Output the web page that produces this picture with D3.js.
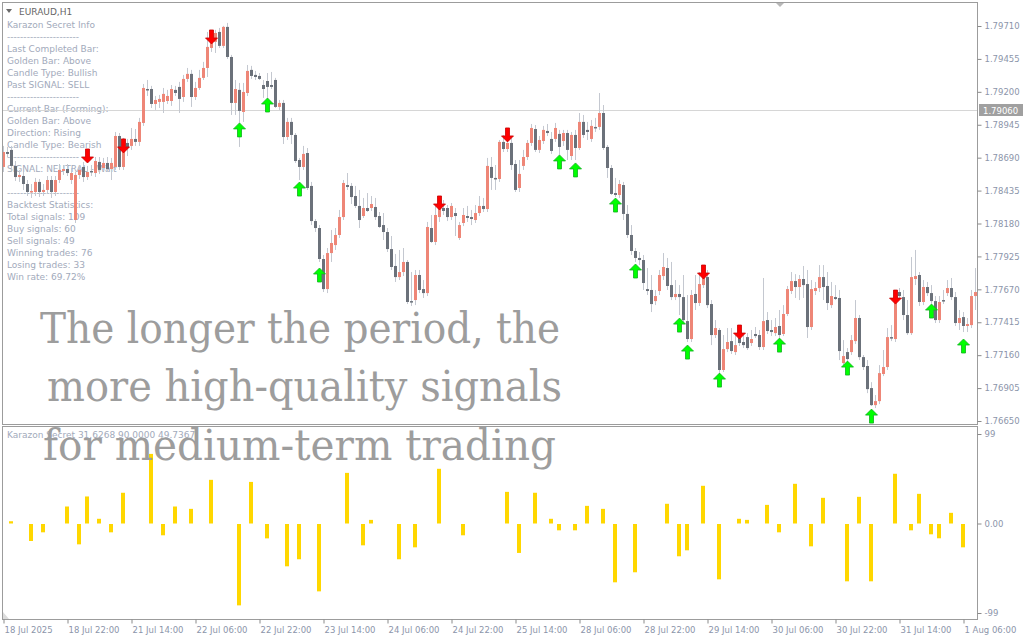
<!DOCTYPE html>
<html><head><meta charset="utf-8">
<script src="https://cdn.jsdelivr.net/npm/d3@7"></script>
<style>body{margin:0;background:#fff}svg{display:block}</style>
</head><body><svg id="c" width="1024" height="640"></svg>
<script>
const opens = [
1.78618,1.78734,1.78750,1.78626,1.78540,1.78548,1.78486,1.78424,1.78424,1.78502,
1.78424,1.78440,1.78517,1.78424,1.78517,1.78587,1.78602,1.78517,1.78207,1.78556,
1.78618,1.78540,1.78587,1.78571,1.78657,1.78610,1.78649,1.78602,1.78618,1.78858,
1.78618,1.78804,1.78781,1.78835,1.78812,1.78959,1.79222,1.79222,1.79106,1.79122,
1.79122,1.79129,1.79129,1.79215,1.79238,1.79160,1.79300,1.79339,1.79160,1.79230,
1.79308,1.79385,1.79540,1.79587,1.79664,1.79556,1.79703,1.79470,1.79114,1.79215,
1.79044,1.79191,1.79370,1.79331,1.79323,1.79253,1.79284,1.79253,1.79292,1.79083,
1.79114,1.78850,1.78967,1.78866,1.78672,1.78618,1.78726,1.78471,1.78199,1.78145,
1.77905,1.77672,1.77951,1.78013,1.78091,1.78230,1.78478,1.78471,1.78393,1.78316,
1.78238,1.78300,1.78300,1.78308,1.78238,1.78168,1.78114,1.77982,1.77851,1.77765,
1.77804,1.77882,1.77579,1.77587,1.77781,1.77672,1.77641,1.78145,1.78037,1.78230,
1.78300,1.78300,1.78230,1.78261,1.78068,1.78184,1.78238,1.78230,1.78207,1.78261,
1.78316,1.78292,1.78618,1.78533,1.78525,1.78812,1.78757,1.78804,1.78641,1.78455,
1.78626,1.78695,1.78804,1.78912,1.78750,1.78819,1.78897,1.78835,1.78835,1.78874,
1.78819,1.78881,1.78703,1.78866,1.78765,1.78967,1.78905,1.78835,1.78928,1.78928,
1.79036,1.78773,1.78610,1.78416,1.78401,1.78478,1.78254,1.78091,1.77967,1.77913,
1.77897,1.77672,1.77665,1.77579,1.77657,1.77773,1.77835,1.77703,1.77610,1.77634,
1.77610,1.77424,1.77285,1.77634,1.77564,1.77703,1.77765,1.77556,1.77316,1.77355,
1.77045,1.77207,1.77269,1.77184,1.77293,1.77262,1.77300,1.77254,1.77324,1.77316,
1.77223,1.77432,1.77355,1.77331,1.77386,1.77324,1.77479,1.77657,1.77734,1.77688,
1.77750,1.77711,1.77378,1.77657,1.77680,1.77765,1.77696,1.77548,1.77610,1.77603,
1.77099,1.77184,1.77184,1.77269,1.77448,1.77145,1.77076,1.76905,1.76773,1.76804,
1.77014,1.77068,1.77300,1.77285,1.77649,1.77610,1.77471,1.77331,1.77750,1.77781,
1.77572,1.77688,1.77641,1.77579,1.77432,1.77587,1.77641,1.77680,1.77610,1.77409,
1.77455,1.77386,1.77393,1.77618];
const highs = [
1.78781,1.78773,1.78781,1.78664,1.78595,1.78579,1.78517,1.78486,1.78533,1.78525,
1.78486,1.78548,1.78548,1.78548,1.78641,1.78633,1.78641,1.78610,1.78579,1.78633,
1.78657,1.78626,1.78633,1.78695,1.78695,1.78688,1.78695,1.78688,1.78889,1.78881,
1.78843,1.78835,1.78920,1.78912,1.78998,1.79261,1.79292,1.79246,1.79168,1.79176,
1.79230,1.79215,1.79253,1.79246,1.79277,1.79331,1.79385,1.79370,1.79277,1.79370,
1.79432,1.79664,1.79618,1.79680,1.79695,1.79711,1.79734,1.79486,1.79292,1.79269,
1.79269,1.79408,1.79401,1.79362,1.79346,1.79292,1.79346,1.79354,1.79308,1.79137,
1.79137,1.78998,1.78998,1.78881,1.78688,1.78781,1.78765,1.78502,1.78215,1.78168,
1.77936,1.77990,1.78130,1.78145,1.78285,1.78517,1.78571,1.78494,1.78471,1.78440,
1.78378,1.78416,1.78393,1.78378,1.78269,1.78261,1.78145,1.78083,1.77944,1.77975,
1.77990,1.77897,1.77804,1.77820,1.77820,1.77742,1.78192,1.78246,1.78316,1.78323,
1.78362,1.78323,1.78339,1.78300,1.78192,1.78300,1.78316,1.78285,1.78323,1.78393,
1.78378,1.78688,1.78695,1.78633,1.78827,1.78866,1.78866,1.78843,1.78672,1.78672,
1.78750,1.78827,1.78951,1.78943,1.78858,1.78936,1.78951,1.78889,1.78959,1.78905,
1.78905,1.78905,1.78889,1.78905,1.79036,1.79021,1.78967,1.78982,1.78998,1.79191,
1.79098,1.78788,1.78633,1.78533,1.78517,1.78502,1.78323,1.78168,1.77990,1.77959,
1.77936,1.77835,1.77781,1.77665,1.77820,1.77951,1.77913,1.77882,1.77742,1.77703,
1.77781,1.77626,1.77665,1.77781,1.77804,1.77773,1.77820,1.77587,1.77432,1.77370,
1.77316,1.77370,1.77370,1.77316,1.77355,1.77316,1.77331,1.77355,1.77378,1.77355,
1.77758,1.77494,1.77432,1.77448,1.77510,1.77548,1.77696,1.77804,1.77788,1.77781,
1.77851,1.77820,1.77742,1.77727,1.77858,1.77858,1.77804,1.77727,1.77703,1.77665,
1.77277,1.77215,1.77316,1.77587,1.77471,1.77161,1.77122,1.76951,1.76851,1.77083,
1.77200,1.77370,1.77393,1.77665,1.77680,1.77665,1.77587,1.77920,1.77975,1.77804,
1.77742,1.77727,1.77703,1.77618,1.77618,1.77665,1.77742,1.77758,1.77649,1.77510,
1.77494,1.77448,1.77665,1.77835];
const lows = [
1.78579,1.78695,1.78579,1.78509,1.78502,1.78440,1.78393,1.78378,1.78393,1.78385,
1.78393,1.78409,1.78378,1.78393,1.78494,1.78556,1.78548,1.78486,1.78184,1.78525,
1.78502,1.78517,1.78548,1.78540,1.78564,1.78587,1.78579,1.78517,1.78595,1.78595,
1.78595,1.78703,1.78750,1.78781,1.78781,1.78936,1.79168,1.79075,1.79060,1.79075,
1.79036,1.79106,1.79091,1.79168,1.79036,1.79122,1.79277,1.79083,1.79137,1.79215,
1.79292,1.79315,1.79509,1.79501,1.79540,1.79540,1.79455,1.79021,1.79021,1.78773,
1.78967,1.79168,1.79300,1.79292,1.79292,1.79153,1.79145,1.79222,1.79075,1.79060,
1.78796,1.78827,1.78796,1.78649,1.78517,1.78595,1.78440,1.78168,1.78114,1.77882,
1.77649,1.77641,1.77882,1.77975,1.78068,1.78207,1.78440,1.78331,1.78300,1.78145,
1.78223,1.78269,1.78277,1.78207,1.78145,1.78052,1.77959,1.77820,1.77727,1.77742,
1.77773,1.77556,1.77541,1.77548,1.77641,1.77603,1.77618,1.78029,1.78013,1.78192,
1.78246,1.78199,1.78207,1.78083,1.78052,1.78160,1.78192,1.78168,1.78184,1.78238,
1.78269,1.78269,1.78440,1.78440,1.78502,1.78734,1.78734,1.78595,1.78424,1.78424,
1.78595,1.78672,1.78781,1.78734,1.78726,1.78796,1.78858,1.78719,1.78812,1.78711,
1.78781,1.78672,1.78672,1.78672,1.78750,1.78843,1.78827,1.78812,1.78889,1.78905,
1.78750,1.78533,1.78401,1.78385,1.78378,1.78207,1.78068,1.77936,1.77882,1.77858,
1.77665,1.77626,1.77494,1.77548,1.77626,1.77742,1.77665,1.77587,1.77587,1.77471,
1.77417,1.77262,1.77262,1.77510,1.77541,1.77680,1.77525,1.77238,1.77293,1.77006,
1.77029,1.77184,1.77169,1.77161,1.77231,1.77215,1.77200,1.77231,1.77293,1.77200,
1.77200,1.77324,1.77308,1.77308,1.77293,1.77308,1.77463,1.77634,1.77603,1.77587,
1.77603,1.77293,1.77355,1.77626,1.77649,1.77587,1.77510,1.77525,1.77587,1.77122,
1.77083,1.77106,1.77161,1.77246,1.77122,1.77045,1.76866,1.76766,1.76750,1.76781,
1.76998,1.77045,1.77269,1.77262,1.77603,1.77432,1.77316,1.77316,1.77703,1.77541,
1.77548,1.77618,1.77556,1.77409,1.77409,1.77556,1.77618,1.77587,1.77386,1.77355,
1.77339,1.77339,1.77370,1.77510];
const closes = [
1.78734,1.78719,1.78626,1.78540,1.78556,1.78486,1.78424,1.78432,1.78502,1.78424,
1.78440,1.78517,1.78424,1.78517,1.78595,1.78602,1.78571,1.78571,1.78556,1.78595,
1.78540,1.78579,1.78579,1.78664,1.78595,1.78649,1.78602,1.78649,1.78858,1.78618,
1.78804,1.78765,1.78835,1.78812,1.78967,1.79230,1.79215,1.79106,1.79137,1.79145,
1.79184,1.79168,1.79222,1.79191,1.79145,1.79300,1.79339,1.79160,1.79230,1.79308,
1.79385,1.79548,1.79587,1.79656,1.79556,1.79703,1.79470,1.79114,1.79222,1.79052,
1.79199,1.79362,1.79323,1.79315,1.79300,1.79222,1.79238,1.79238,1.79083,1.79114,
1.78850,1.78967,1.78866,1.78664,1.78618,1.78719,1.78455,1.78199,1.78145,1.77905,
1.77672,1.77951,1.78029,1.78091,1.78230,1.78494,1.78463,1.78385,1.78316,1.78207,
1.78300,1.78277,1.78331,1.78230,1.78153,1.78114,1.77982,1.77843,1.77765,1.77804,
1.77882,1.77572,1.77572,1.77781,1.77665,1.77641,1.78153,1.78037,1.78246,1.78300,
1.78277,1.78230,1.78316,1.78238,1.78168,1.78246,1.78223,1.78215,1.78261,1.78316,
1.78292,1.78626,1.78533,1.78525,1.78812,1.78757,1.78804,1.78633,1.78440,1.78564,
1.78695,1.78804,1.78920,1.78750,1.78827,1.78905,1.78881,1.78742,1.78920,1.78773,
1.78881,1.78750,1.78866,1.78765,1.78967,1.78866,1.78889,1.78936,1.78920,1.79036,
1.78765,1.78610,1.78409,1.78401,1.78486,1.78254,1.78091,1.77967,1.77913,1.77897,
1.77719,1.77657,1.77556,1.77618,1.77781,1.77843,1.77696,1.77610,1.77634,1.77610,
1.77432,1.77285,1.77626,1.77564,1.77711,1.77765,1.77548,1.77316,1.77370,1.77045,
1.77207,1.77262,1.77192,1.77238,1.77254,1.77238,1.77215,1.77285,1.77308,1.77223,
1.77424,1.77347,1.77339,1.77378,1.77316,1.77479,1.77672,1.77734,1.77688,1.77750,
1.77703,1.77378,1.77672,1.77680,1.77765,1.77688,1.77564,1.77618,1.77595,1.77192,
1.77153,1.77130,1.77277,1.77448,1.77145,1.77068,1.76897,1.76773,1.76804,1.77021,
1.77068,1.77300,1.77293,1.77641,1.77618,1.77471,1.77331,1.77765,1.77773,1.77572,
1.77688,1.77641,1.77579,1.77432,1.77572,1.77579,1.77680,1.77610,1.77409,1.77448,
1.77386,1.77401,1.77618,1.77649];

const sellBars = [21,30,52,109,126,175,184,223];
const sellPrices = [1.78703,1.78781,1.79625,1.78339,1.78866,1.77804,1.77339,1.77610];
const buyBars = [59,66,74,79,139,143,153,158,169,171,179,194,211,217,232,240];
const buyPrices = [1.78905,1.79098,1.78447,1.77781,1.78657,1.78595,1.78323,1.77812,1.77393,1.77184,1.76967,1.77238,1.77060,1.76688,1.77502,1.77231];

const oscBars = [2,7,10,16,19,21,24,27,30,37,40,43,47,52,59,62,66,71,74,79,86,90,92,99,103,109,115,126,129,133,137,139,143,146,150,153,158,166,169,171,175,179,184,186,191,194,198,202,205,211,214,217,223,227,229,232,234,237,240];
const oscValues = [2.5,-18.8,-9.2,18.8,-22.5,29.9,5.2,-9.2,34,77,-12.5,18.8,16.2,48.3,-90,46,-15.9,-46.8,-39,-74.5,56,-23.6,4,-39,-25.8,60.5,-12.5,35,-32,34,5.2,-7,-7,19.5,16.2,-64.5,-53.4,21.8,-35.7,-29.1,41.7,-61.2,5.2,4,20.6,-9.2,43.9,-24.7,28.4,-63.4,29.5,-63.4,55,-7,32.8,-11.4,-15.8,11.8,-25.8];

const priceTicks = [1.79710,1.79455,1.79200,1.78945,1.78690,1.78435,1.78180,1.77925,1.77670,1.77415,1.77160,1.76905,1.76650];
const oscTicks = [99,0,-99];
const timeTickBars = [0,16,32,48,64,80,96,112,128,144,160,176,192,208,224,240];
const timeTickLabels = ["18 Jul 2025","18 Jul 22:00","21 Jul 14:00","22 Jul 06:00","22 Jul 22:00","23 Jul 14:00","24 Jul 06:00","24 Jul 22:00","25 Jul 14:00","28 Jul 06:00","28 Jul 22:00","29 Jul 14:00","30 Jul 06:00","30 Jul 22:00","31 Jul 14:00","1 Aug 06:00"];
const currentPrice = 1.79060;
const symbolTitle = "EURAUD,H1";
const infoLines = ["Karazon Secret Info","----------------------","Last Completed Bar:","Golden Bar: Above","Candle Type: Bullish","Past SIGNAL: SELL","----------------------","Current Bar (Forming):","Golden Bar: Above","Direction: Rising","Candle Type: Bearish","----------------------","SIGNAL: NEUTRAL - Wait","","----------------------","Backtest Statistics:","Total signals: 109","Buy signals: 60","Sell signals: 49","Winning trades: 76","Losing trades: 33","Win rate: 69.72%"];
const oscLabel = "Karazon Secret 31.6268 90.0000 49.7367";
const headline = ["The longer the period, the","more high-quality signals","for medium-term trading"];

const svg = d3.select('#c');
const FONT = "'DejaVu Sans', sans-serif";
const x = d3.scaleLinear().domain([0, 243]).range([3, 975]);
const y = d3.scaleLinear().domain([1.76650, 1.79710]).range([421, 26]);
const yo = d3.scaleLinear().domain([-99, 99]).range([613, 434]);

svg.append('rect').attr('width',1024).attr('height',640).attr('fill','#fff');
const defs = svg.append('defs');
defs.append('clipPath').attr('id','clipMain').append('rect').attr('x',3).attr('y',3).attr('width',974).attr('height',421);
defs.append('clipPath').attr('id','clipOsc').append('rect').attr('x',3).attr('y',427).attr('width',974).attr('height',192);

// info text (behind candles)
const info = svg.append('g').attr('font-family',FONT).attr('font-size',9);
info.append('path').attr('d','M6,9L12,9L9,13Z').attr('fill','#6a6a6a');
info.append('text').attr('x',19).attr('y',14.5).attr('fill','#666').text(symbolTitle);
info.selectAll('text.l').data(infoLines).join('text').attr('class','l')
  .attr('x',7).attr('y',(d,i)=>27.5+12*i).attr('fill','#a2aabb')
  .attr('textLength',(d)=>d.startsWith('---')?72:null)
  .text(d=>d);

// current price line
svg.append('line').attr('x1',3).attr('x2',977).attr('y1',Math.round(y(currentPrice))+0.5).attr('y2',Math.round(y(currentPrice))+0.5).attr('stroke','#d6d6d6');

// candles
const bars = d3.range(opens.length).map(i=>({i,o:opens[i],h:highs[i],l:lows[i],c:closes[i]}));
const main = svg.append('g').attr('clip-path','url(#clipMain)');
main.selectAll('line.w').data(bars).join('line').attr('class','w')
  .attr('x1',d=>x(d.i)+0.5).attr('x2',d=>x(d.i)+0.5)
  .attr('y1',d=>y(d.h)).attr('y2',d=>y(d.l)).attr('stroke','#c4c8d0').attr('stroke-width',1);
main.selectAll('rect.b').data(bars).join('rect').attr('class','b')
  .attr('x',d=>x(d.i)-1).attr('width',3)
  .attr('y',d=>Math.min(y(d.o),y(d.c)))
  .attr('height',d=>Math.max(1.5,Math.abs(y(d.o)-y(d.c))))
  .attr('fill',d=>d.c>=d.o?'#ee8677':'#6b717a');

// arrows
const upPath = 'M0,-7L6,-1L2,-1L2,7L-2,7L-2,-1L-6,-1Z';
const downPath = 'M0,7L6,1L2,1L2,-7L-2,-7L-2,1L-6,1Z';
main.selectAll('path.buy').data(buyBars.map((b,k)=>({b,p:buyPrices[k]}))).join('path').attr('class','buy')
  .attr('d',upPath).attr('transform',d=>`translate(${x(d.b)+0.5},${y(d.p)})`)
  .attr('fill','#00ff00').attr('stroke','#10b020').attr('stroke-width',0.8);
main.selectAll('path.sell').data(sellBars.map((b,k)=>({b,p:sellPrices[k]}))).join('path').attr('class','sell')
  .attr('d',downPath).attr('transform',d=>`translate(${x(d.b)+0.5},${y(d.p)})`)
  .attr('fill','#ff0000').attr('stroke','#c80000').attr('stroke-width',0.8);

// oscillator
const osc = svg.append('g').attr('clip-path','url(#clipOsc)');
osc.selectAll('rect').data(oscBars.map((b,k)=>({b,v:oscValues[k]}))).join('rect')
  .attr('x',d=>x(d.b)-2).attr('width',4)
  .attr('y',d=>d.v>=0?yo(d.v):yo(0)+0.5)
  .attr('height',d=>Math.abs(yo(d.v)-yo(0)))
  .attr('fill','#ffd700');
svg.append('text').attr('x',7).attr('y',438).attr('font-family',FONT).attr('font-size',9).attr('fill','#a2aabb').text(oscLabel);

// frames
const frame = '#9c9c9c';
svg.append('rect').attr('x',2.5).attr('y',2.5).attr('width',975).attr('height',422).attr('fill','none').attr('stroke',frame);
svg.append('rect').attr('x',2.5).attr('y',426.5).attr('width',975).attr('height',193).attr('fill','none').attr('stroke',frame);
svg.append('path').attr('d','M776,3L784,3L780,7Z').attr('fill','#b8b8b8');
svg.append('path').attr('d','M3,612L3,619L9,619Z').attr('fill','#dcdcdc');

// axes
function styleAxis(g){
  g.select('.domain').remove();
  g.selectAll('line').attr('stroke','#8a8a8a');
  g.selectAll('text').attr('fill','#8c95aa').attr('font-family',FONT).attr('font-size',8.5);
}
svg.append('g').attr('transform','translate(977.5,0)')
  .call(d3.axisRight(y).tickValues(priceTicks).tickFormat(d3.format('.5f')).tickSize(4).tickPadding(3))
  .call(styleAxis);
svg.append('g').attr('transform','translate(977.5,0)')
  .call(d3.axisRight(yo).tickValues(oscTicks).tickFormat(d=>d===0?'0.00':String(d)).tickSize(4).tickPadding(3))
  .call(styleAxis);
const xa = svg.append('g').attr('transform','translate(0,619.5)')
  .call(d3.axisBottom(x).tickValues(timeTickBars).tickFormat((d,i)=>timeTickLabels[i]).tickSize(4).tickPadding(3))
  .call(styleAxis);
xa.selectAll('.tick line').attr('transform','translate(0.5,0)');
xa.selectAll('.tick text').attr('text-anchor','start').attr('x',1);

// current price label
const cpy = Math.round(y(currentPrice))+0.5;
svg.append('rect').attr('x',979).attr('y',cpy-6.5).attr('width',44).attr('height',12).attr('fill','#a0a0a0');
svg.append('text').attr('x',983).attr('y',cpy+3.5).attr('font-family',FONT).attr('font-size',8.5).attr('fill','#fff').text(d3.format('.5f')(currentPrice));

// headline overlay
const hl = svg.append('g').attr('font-family',"'DejaVu Serif', serif").attr('font-size',42).attr('fill','#9d9d9d');
const hlX = [40,47,43], hlY = [343,401,460], hlW = [520,515,513];
hl.selectAll('text').data(headline).join('text')
  .attr('x',(d,i)=>hlX[i]).attr('y',(d,i)=>hlY[i])
  .attr('textLength',(d,i)=>hlW[i]).attr('lengthAdjust','spacingAndGlyphs')
  .text(d=>d);
</script></body></html>
